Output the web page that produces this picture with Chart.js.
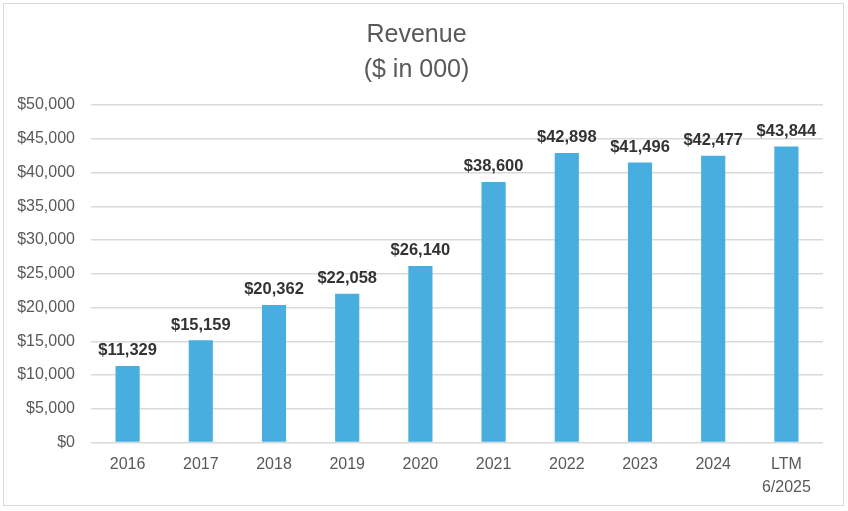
<!DOCTYPE html>
<html>
<head>
<meta charset="utf-8">
<script src="https://cdn.jsdelivr.net/npm/chart.js@4.4.1/dist/chart.umd.min.js"></script>
<style>
  html, body { margin: 0; padding: 0; background: #fff; }
  #wrap { position: relative; width: 848px; height: 511px; }
  #frame { position: absolute; left: 3px; top: 3px; width: 839px; height: 501px; border: 1.5px solid #d9d9d9; pointer-events: none; }
</style>
</head>
<body>
<div id="wrap">
  <canvas id="myChart" width="848" height="511"></canvas>
  <div id="frame"></div>
</div>
<script>
// Chart data
const years = ['2016', '2017', '2018', '2019', '2020', '2021', '2022', '2023', '2024', ['LTM', '6/2025']];
const revenue = [11329, 15159, 20362, 22058, 26140, 38600, 42898, 41496, 42477, 43844];
const titleLines = ['Revenue', '($ in 000)'];
const yMax = 50000;
const yStep = 5000;

const money = v => '$' + Number(v).toLocaleString('en-US');

// Draw the value above every bar
const barLabels = {
  id: 'barLabels',
  afterDatasetsDraw(chart) {
    const c = chart.ctx;
    const meta = chart.getDatasetMeta(0);
    c.save();
    c.font = 'bold 16.5px "Liberation Sans", Arial, sans-serif';
    c.fillStyle = '#333333';
    c.textAlign = 'center';
    c.textBaseline = 'bottom';
    meta.data.forEach((bar, i) => {
      c.fillText(money(revenue[i]), bar.x, bar.y - 7);
    });
    c.restore();
  }
};

let ctx = document.getElementById('myChart');

let myChart = new Chart(ctx, {
  type: 'bar',
  data: {
    labels: years,
    datasets: [{
      label: 'Revenue',
      data: revenue,
      backgroundColor: '#47AEDF',
      barPercentage: 0.33,
      categoryPercentage: 1
    }]
  },
  options: {
    responsive: false,
    maintainAspectRatio: false,
    animation: false,
    layout: { padding: { left: 10, right: 25, top: 12, bottom: 10 } },
    plugins: {
      legend: { display: false },
      tooltip: { enabled: false },
      title: {
        display: true,
        text: titleLines,
        color: '#595959',
        font: { family: '"Liberation Sans", Arial, sans-serif', size: 25, weight: 'normal', lineHeight: 1.4 },
        padding: { top: 6, bottom: 17 }
      }
    },
    scales: {
      x: {
        grid: { display: false },
        border: { display: false },
        ticks: {
          color: '#595959',
          font: { family: '"Liberation Sans", Arial, sans-serif', size: 16, lineHeight: 1.45 },
          padding: 2,
          maxRotation: 0
        }
      },
      y: {
        min: 0,
        max: yMax,
        afterFit(scale) { scale.width = 81; },
        grid: { color: '#d9d9d9', lineWidth: 1.5, drawTicks: false },
        border: { display: false },
        ticks: {
          stepSize: yStep,
          color: '#595959',
          font: { family: '"Liberation Sans", Arial, sans-serif', size: 16 },
          padding: 16,
          callback: v => money(v)
        }
      }
    }
  },
  plugins: [barLabels]
});
</script>
</body>
</html>
